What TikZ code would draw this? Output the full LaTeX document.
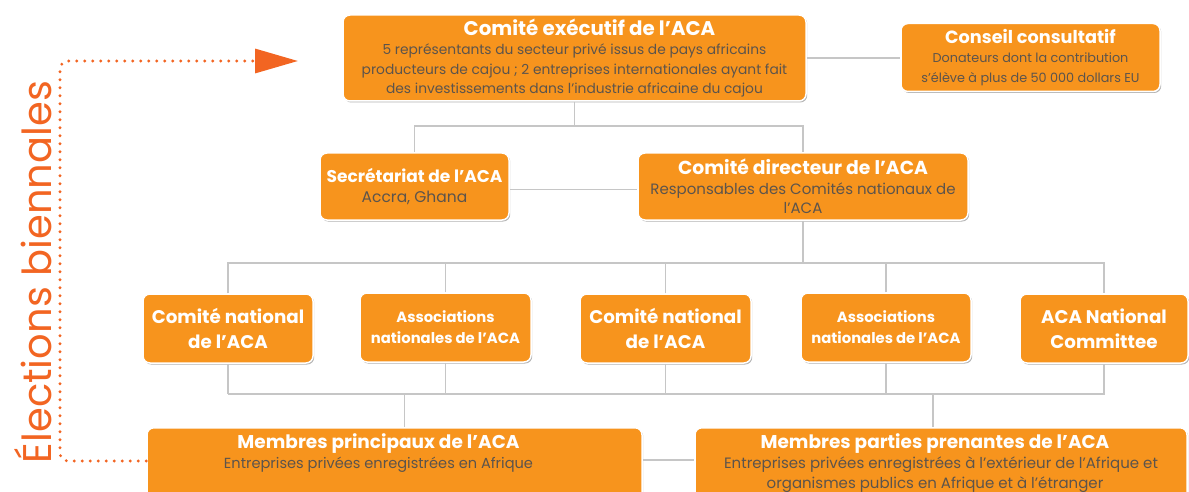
\documentclass[tikz,border=0pt]{standalone}
\usepackage{fontspec}
\setmainfont{Poppins}
\usepackage{tikz}
\usetikzlibrary{arrows, arrows.meta, positioning, calc, shadows}
\definecolor{acaorange}{RGB}{247,148,29}
\definecolor{acared}{RGB}{242,101,34}
\definecolor{acatext}{RGB}{92,84,76}
\newcommand{\ttl}[2][18.5]{{\bfseries\fontsize{#1}{19}\selectfont #2}}
\newcommand{\txt}[2][14]{{\color{acatext}\fontsize{#1}{19}\selectfont #2}}

\begin{document}
\begin{tikzpicture}[x=1pt, y=-1pt, >=Stealth,
  box/.style={draw=white, line width=1.5pt, fill=acaorange, rounded corners=7pt,
    align=center, text=white, inner sep=2pt, font=\fontsize{11}{19.5}\selectfont,
    drop shadow={shadow xshift=1.2pt, shadow yshift=-1.5pt, fill=black, opacity=0.3}},
  unit/.style={box, minimum height=69pt, font=\bfseries\fontsize{18.3}{25}\selectfont},
  assoc/.style={unit, font=\bfseries\fontsize{14.8}{21}\selectfont},
  member/.style={box, anchor=north, inner ysep=6pt, text depth=60pt, font=\fontsize{11}{20}\selectfont},
  link/.style={draw=gray!45, line width=1.8pt},
  vote/.style={draw=acared, line width=3.2pt, line cap=round, dash pattern=on 0pt off 8pt,
    rounded corners=8pt, -{Triangle[length=43pt, width=24pt]}}]
  \useasboundingbox (0,0) rectangle (1189,492);

  % executive committee and advisory board
  \node[box, minimum width=463pt, minimum height=86pt] (exec) at (574.5,58)
    {\hspace*{30pt}\ttl[19.8]{Comité exécutif de l’ACA}\\
     \txt[13.8]{5 représentants du secteur privé issus de pays africains}\\
     \txt[13.8]{producteurs de cajou ; 2 entreprises internationales ayant fait}\\
     \txt[13.8]{des investissements dans l’industrie africaine du cajou}};
  \node[box, minimum width=259pt, minimum height=68pt] (conseil) at (1030.5,57.5)
    {\ttl[17.7]{Conseil consultatif}\\
     \txt[12.8]{Donateurs dont la contribution}\\
     \txt[12.8]{s’élève à plus de 50 000 dollars EU}};

  % secretariat and steering committee
  \node[box, minimum width=189pt, minimum height=67pt] (secr) at (414.5,186.5)
    {\ttl[17]{Secrétariat de l’ACA}\\ \txt[15.5]{Accra, Ghana}};
  \node[box, minimum width=330pt, minimum height=67pt] (direct) at (803,186.5)
    {\ttl[18.8]{Comité directeur de l’ACA}\\
     \txt[15]{Responsables des Comités nationaux de}\\ \txt[15]{l’ACA}};

  % national committees and associations
  \node[unit, minimum width=170pt] (cn1) at (228,328.5) {Comité national\\de l’ACA};
  \node[assoc, minimum width=171pt] (an1) at (445.5,327.5) {Associations\\nationales de l’ACA};
  \node[unit, minimum width=171pt] (cn2) at (665.5,328.5) {Comité national\\de l’ACA};
  \node[assoc, minimum width=170pt] (an2) at (886,327.5) {Associations\\nationales de l’ACA};
  \node[unit, minimum width=168pt] (acan) at (1104,328.5) {ACA National\\Committee};

  % members, running off the bottom edge
  \node[member, minimum width=495pt] (mp) at (394.5,427)
    {\ttl{Membres principaux de l’ACA}\hspace*{32pt}\\
     \txt[14.6]{Entreprises privées enregistrées en Afrique}\hspace*{32pt}};
  \node[member, minimum width=492pt] (mpp) at (941,427)
    {\ttl{Membres parties prenantes de l’ACA}\hspace*{12pt}\\
     \txt[15]{Entreprises privées enregistrées à l’extérieur de l’Afrique et}\hspace*{12pt}\\
     \txt[15]{organismes publics en Afrique et à l’étranger}\hspace*{12pt}};

  % connectors
  \draw[link] (exec.east) -- (exec.east -| conseil.west);
  \draw[link] (exec.south) -- ++(0,24) coordinate (j1);
  \draw[link] (secr.north) |- (j1) -| (direct.north);
  \draw[link] ([yshift=-3pt]secr.east) -- ([yshift=-3pt]direct.west);
  \draw[link] (direct.south) -- ++(0,42) coordinate (j2);
  \draw[link] (cn1.north) |- (j2) -| (acan.north);
  \draw[link] (cn1.south) -- ++(0,30) coordinate (j3);
  \draw[link] (j3) -| (acan.south);
  \foreach \n in {an1, cn2, an2} {
    \draw[link] (\n.north) -- (\n.north |- j2);
    \draw[link] (\n.south) -- (\n.south |- j3);
  }
  \draw[link] ([xshift=10pt]mp.north) -- ([xshift=10pt]mp.north |- j3);
  \draw[link] ([xshift=-8pt]mpp.north) -- ([xshift=-8pt]mpp.north |- j3);
  \draw[link] (mp.north east) ++(0,33) coordinate (m1) -- (m1 -| mpp.west);

  % biennial elections
  \node[rotate=90, text=acared, font=\fontsize{40}{40}\selectfont] (elect) at (33,272) {Élections biennales};
  \coordinate (target) at (298,61);
  \draw[vote] (mp.north west) ++(0,34) -| (target -| 60,0) -- (target);
\end{tikzpicture}
\end{document}
